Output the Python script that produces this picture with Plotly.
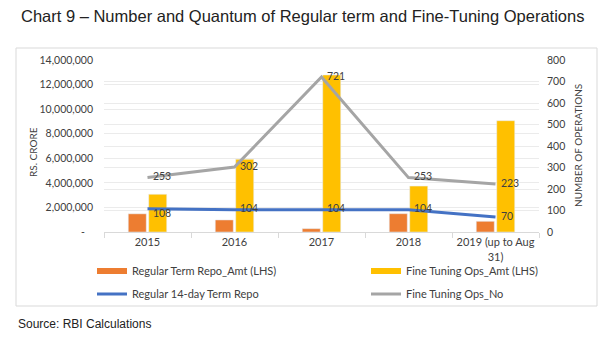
import plotly.graph_objects as go

categories = ["2015", "2016", "2017", "2018", "2019 (up to Aug<br>31)"]
regular_amt = [1480000, 980000, 270000, 1490000, 870000]
fine_amt = [3070000, 5920000, 12780000, 3740000, 9060000]
regular_no = [108, 104, 104, 104, 70]
fine_no = [253, 302, 721, 253, 223]
left_ticks = [0, 2000000, 4000000, 6000000, 8000000, 10000000, 12000000, 14000000]
left_ticktext = ["-\u00a0\u00a0\u00a0", "2,000,000", "4,000,000", "6,000,000", "8,000,000",
                 "10,000,000", "12,000,000", "14,000,000"]
right_ticks = [0, 100, 200, 300, 400, 500, 600, 700, 800]

W, H = 616, 345
L, R, T, B = 104, 77, 60, 113
PW, PH = W - L - R, H - T - B

def px(x):
    return (x - L) / PW

def py(y):
    return (H - B - y) / PH

FONT = "Lato"
LABEL_COLOR = "#404040"
PAD = "\u00a0\u00a0"
ORANGE, YELLOW, BLUE, GRAY = "#ED7D31", "#FFC000", "#4472C4", "#A5A5A5"

fig = go.Figure()
fig.add_trace(go.Bar(x=categories, y=regular_amt, name="Regular Term Repo_Amt (LHS)",
                     marker_color=ORANGE, showlegend=False))
fig.add_trace(go.Bar(x=categories, y=fine_amt, name="Fine Tuning Ops_Amt (LHS)",
                     marker_color=YELLOW, showlegend=False))
fig.add_trace(go.Scatter(x=categories, y=regular_no, name="Regular 14-day Term Repo",
                         mode="lines+text", yaxis="y2", line=dict(color=BLUE, width=3),
                         text=[PAD + str(v) for v in regular_no],
                         textposition=["bottom right"] + ["middle right"] * 4,
                         textfont=dict(family=FONT, size=10.5, color=LABEL_COLOR),
                         legend="legend3", cliponaxis=False))
fig.add_trace(go.Scatter(x=categories, y=fine_no, name="Fine Tuning Ops_No",
                         mode="lines+text", yaxis="y2", line=dict(color=GRAY, width=3),
                         text=[PAD + str(v) for v in fine_no], textposition="middle right",
                         textfont=dict(family=FONT, size=10.5, color=LABEL_COLOR),
                         legend="legend4", cliponaxis=False))
# legend entries for the bar series, drawn as strips like the original
fig.add_trace(go.Scatter(x=[None], y=[None], mode="lines", name="Regular Term Repo_Amt (LHS)",
                         line=dict(color=ORANGE, width=6), legend="legend"))
fig.add_trace(go.Scatter(x=[None], y=[None], mode="lines", name="Fine Tuning Ops_Amt (LHS)",
                         line=dict(color=YELLOW, width=6), legend="legend2"))

legend_common = dict(orientation="v", xanchor="left", yanchor="middle",
                     bgcolor="rgba(0,0,0,0)", font=dict(family=FONT, size=11, color="#404040"),
                     itemwidth=30)
fig.update_layout(
    width=W, height=H,
    margin=dict(l=L, r=R, t=T, b=B),
    paper_bgcolor="white", plot_bgcolor="white",
    showlegend=True,
    barmode="group", bargap=0.53, bargroupgap=0.12,
    font=dict(family=FONT, size=11, color="#404040"),
    legend=dict(x=px(92), y=py(271), **legend_common),
    legend2=dict(x=px(366), y=py(271), **legend_common),
    legend3=dict(x=px(92), y=py(294), **legend_common),
    legend4=dict(x=px(366), y=py(294), **legend_common),
    xaxis=dict(showline=True, linecolor="#d9d9d9", linewidth=1, ticks="outside",
               tickson="boundaries", ticklen=5, tickcolor="#d9d9d9", tickangle=0,
               tickfont=dict(family=FONT, size=11, color="#404040"), fixedrange=True),
    yaxis=dict(range=[0, 14000000], tickvals=left_ticks, ticktext=left_ticktext,
               showgrid=True, gridcolor="#ebebeb", zeroline=False,
               tickfont=dict(family=FONT, size=10.5, color="#404040"), ticklabelstandoff=10),
    yaxis2=dict(range=[0, 800], tickvals=right_ticks, overlaying="y", side="right",
                showgrid=True, gridcolor="#ebebeb", zeroline=False,
                tickfont=dict(family=FONT, size=10.5, color="#404040"), ticklabelstandoff=7),
    shapes=[dict(type="rect", xref="paper", yref="paper", x0=px(16), x1=px(597),
                 y0=py(306), y1=py(48), line=dict(color="#d9d9d9", width=1),
                 fillcolor="rgba(0,0,0,0)", layer="below")],
    annotations=[
        dict(text="Chart 9 \u2013 Number and Quantum of Regular term and Fine-Tuning Operations",
             xref="paper", yref="paper", x=px(19), y=py(16), xanchor="left", yanchor="middle",
             showarrow=False, font=dict(family="Liberation Sans", size=16.5, color="#222222")),
        dict(text="Source: RBI Calculations", xref="paper", yref="paper", x=px(16), y=py(324),
             xanchor="left", yanchor="middle", showarrow=False,
             font=dict(family="Liberation Sans", size=12, color="#222222")),
        dict(text="RS. CRORE", xref="paper", yref="paper", x=px(33), y=py(152),
             xanchor="center", yanchor="middle", textangle=-90, showarrow=False,
             font=dict(family=FONT, size=10, color="#404040")),
        dict(text="NUMBER OF OPERATIONS", xref="paper", yref="paper", x=px(578), y=py(146),
             xanchor="center", yanchor="middle", textangle=-90, showarrow=False,
             font=dict(family=FONT, size=10, color="#404040")),
    ],
)
fig.write_html("out.html")
